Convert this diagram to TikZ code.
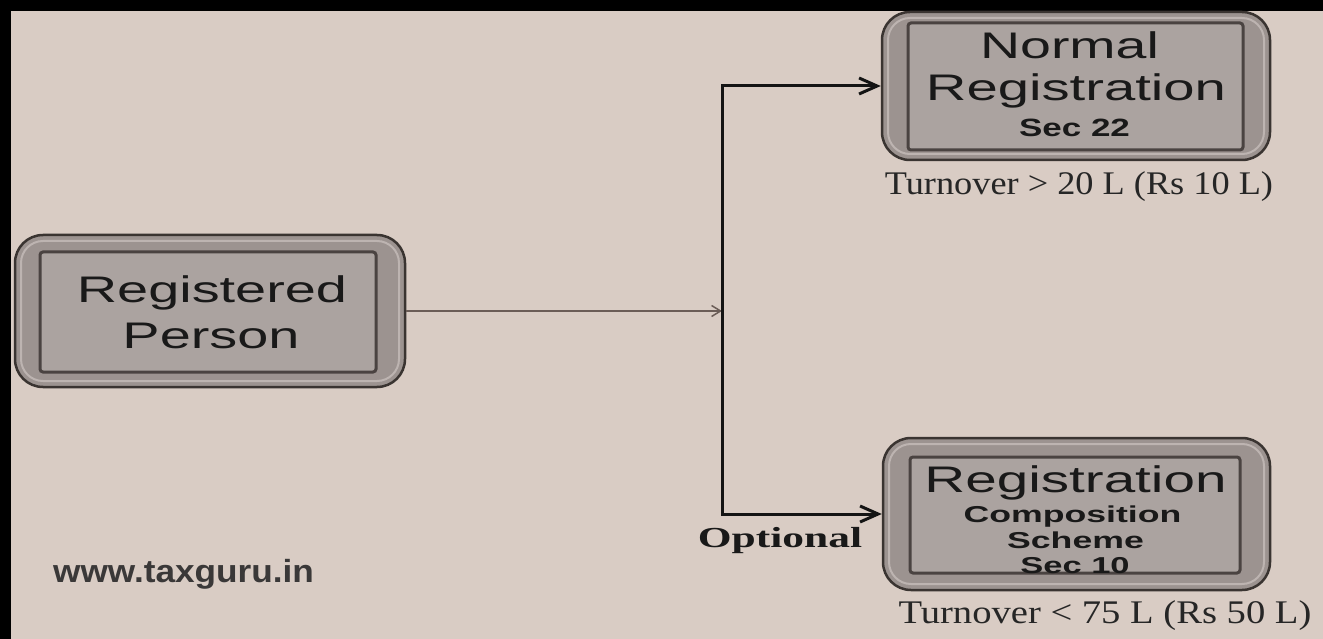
\documentclass[tikz,border=0pt]{standalone}
\usepackage{fontspec}
\usepackage{graphicx}
\newfontfamily\arialf{Liberation Sans}
\newfontfamily\timesf{Liberation Serif}
\usetikzlibrary{arrows.meta}
\definecolor{bg}{HTML}{D9CCC4}
\definecolor{frame}{HTML}{9C9390}
\definecolor{frameline}{HTML}{3A3431}
\definecolor{framehi}{HTML}{BDB4B1}
\definecolor{innerfill}{HTML}{ABA3A0}
\definecolor{innerline}{HTML}{4A4341}
\definecolor{thinline}{HTML}{6B5D57}
\definecolor{wwwcol}{HTML}{3A3838}
\newcommand{\sx}[2]{\scalebox{#1}[1]{#2}}
\begin{document}
\begin{tikzpicture}[x=1pt,y=-1pt,
  outerbox/.style={draw=frameline, fill=frame, line width=2.5pt, rounded corners=28pt, inner sep=0pt},
  hibox/.style={draw=framehi, line width=2pt, rounded corners=22pt, fill=none, inner sep=0pt},
  innerbox/.style={draw=innerline, fill=innerfill, line width=3pt, rounded corners=3pt, inner sep=0pt},
  bigtxt/.style={anchor=base, inner sep=0pt, text=black!90, font=\arialf\fontsize{37}{40}\selectfont},
  subtxt/.style={anchor=base, inner sep=0pt, text=black!90, font=\arialf\bfseries\fontsize{23}{26}\selectfont},
  notetxt/.style={anchor=base, inner sep=0pt, text=black!85, font=\timesf\fontsize{33}{36}\selectfont},
  barrow/.style={draw=black!92, line width=3pt, -{Straight Barb[length=18pt,width=16pt,line width=3pt]}},
  tarrow/.style={draw=thinline, line width=1.5pt, -{Straight Barb[length=9pt,width=11pt,line width=1.5pt]}}
]
\useasboundingbox (0,0) rectangle (1323,639);
\fill[bg] (0,0) rectangle (1323,639);
\fill[black] (0,0) rectangle (1323,11);
\fill[black] (0,0) rectangle (11,639);

% Registered Person
\node[outerbox, minimum width=390pt, minimum height=152pt] (rp) at (210,311) {};
\node[hibox, minimum width=378pt, minimum height=140pt] (rph) at (210,311) {};
\node[innerbox, minimum width=336pt, minimum height=120pt] (rpi) at (208,312) {};
\node[bigtxt] (rpa) at (212,302) {\sx{1.51}{Registered}};
\node[bigtxt] (rpb) at (211,348) {\sx{1.51}{Person}};

% Normal Registration
\node[outerbox, minimum width=388pt, minimum height=148pt] (nr) at (1076,86) {};
\node[hibox, minimum width=376pt, minimum height=136pt] (nrh) at (1076,86) {};
\node[innerbox, minimum width=335pt, minimum height=127pt] (nri) at (1075.5,86.5) {};
\node[bigtxt] (nra) at (1069.5,59) {\sx{1.5}{Normal}};
\node[bigtxt] (nrb) at (1076,101) {\sx{1.52}{Registration}};
\node[subtxt, font=\arialf\bfseries\fontsize{25}{28}\selectfont] (nrc) at (1074.5,137) {\sx{1.4}{Sec 22}};
\node[notetxt] (nrt) at (1079,195) {\sx{1.1}{Turnover > 20 L (Rs 10 L)}};

% Composition Scheme
\node[outerbox, minimum width=387pt, minimum height=152pt] (cs) at (1076.5,514) {};
\node[hibox, minimum width=375pt, minimum height=140pt] (csh) at (1076.5,514) {};
\node[innerbox, minimum width=330pt, minimum height=116pt] (csi) at (1075,515) {};
\node[bigtxt] (csa) at (1075.5,492) {\sx{1.53}{Registration}};
\node[subtxt] (csb) at (1072.5,522) {\sx{1.55}{Composition}};
\node[subtxt] (csc) at (1075.5,548) {\sx{1.55}{Scheme}};
\node[subtxt] (csd) at (1075,573) {\sx{1.5}{Sec 10}};
\node[notetxt] (cst) at (1105,623) {\sx{1.17}{Turnover < 75 L (Rs 50 L)}};

% connectors
\coordinate (j) at (722,311);
\draw[tarrow] (rp.east) -- (j);
\draw[barrow] (j) |- (nr.west);
\draw[barrow] (j) |- (cs.west);
\node[anchor=base, inner sep=0pt, text=black!90, font=\timesf\bfseries\fontsize{29}{32}\selectfont] (opt) at (780,547) {\sx{1.5}{Optional}};

\node[anchor=base west, inner sep=0pt, text=wwwcol, font=\arialf\bfseries\fontsize{32}{34}\selectfont] (www) at (53,582) {\sx{1.1}{www.taxguru.in}};
\end{tikzpicture}
\end{document}
